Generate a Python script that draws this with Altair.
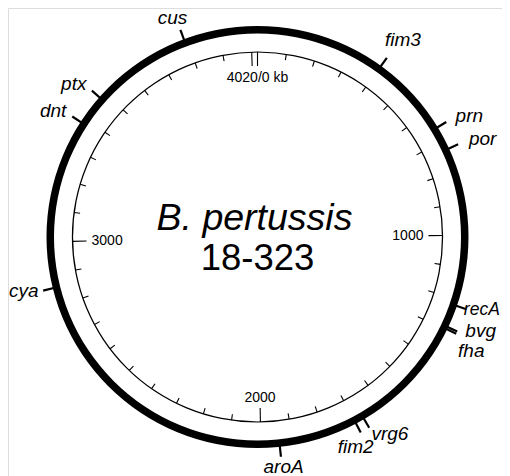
import math
import altair as alt
import pandas as pd

# ---------------- data ----------------
GENOME_KB = 4020
genes = ["cus", "fim3", "prn", "por", "recA", "bvg", "fha", "vrg6", "fim2", "aroA", "cya", "dnt", "ptx"]
gene_kb = [3792, 400, 655, 728, 1218, 1288, 1295, 1671, 1699, 1942, 2858, 3384, 3478]

scale_tick_kb = list(range(0, 4001, 100))
scale_label_kb = [0, 1000, 2000, 3000]
scale_labels = ["4020/0 kb", "1000", "2000", "3000"]

title_lines = ["B. pertussis", "18-323"]

# ---------------- layout (styles / positions) ----------------
W, H = 494, 468
CX, CY = 249.5, 229.0          # circle centre inside the plot area (pixels)
R_RING_OUT, R_RING_IN = 211.0, 203.5
R_INNER = 185.0
GENE_TICK = (208.0, 221.0)
label_nudge_deg = [-0.8, 0.6, 1.6, 1.3, -1.0, -2.6, 2.0, -3.6, 2.8, -0.4, 1.0, -1.4, -1.7]
label_radius = [235, 245, 244, 245.5, 236, 242, 242, 237, 232, 231, 240, 240, 239]
label_size = [19, 19, 19, 19, 17.5, 19, 19, 19, 19, 19, 19, 19, 19]
scale_label_radius = [159, 166, 161, 166]
scale_label_align = ["center", "right", "center", "left"]
FONT = "Liberation Sans"

x_scale = alt.Scale(domain=[-CX, W - CX], nice=False, zero=False)
y_scale = alt.Scale(domain=[CY - H, CY], nice=False, zero=False)


def ang(kb):
    return kb / GENOME_KB * 2 * math.pi


# gene ticks + labels
gdf = pd.DataFrame({"gene": genes, "kb": gene_kb})
gdf["a"] = gdf["kb"].map(ang)
gdf["x1"] = GENE_TICK[0] * gdf["a"].map(math.sin)
gdf["y1"] = GENE_TICK[0] * gdf["a"].map(math.cos)
gdf["x2"] = GENE_TICK[1] * gdf["a"].map(math.sin)
gdf["y2"] = GENE_TICK[1] * gdf["a"].map(math.cos)
la = gdf["a"] + pd.Series(label_nudge_deg).map(math.radians)
gdf["lx"] = pd.Series(label_radius) * la.map(math.sin)
gdf["ly"] = pd.Series(label_radius) * la.map(math.cos)
gdf["fs"] = label_size

# scale ticks
tdf = pd.DataFrame({"kb": scale_tick_kb})
tdf["a"] = tdf["kb"].map(ang)
tdf["len"] = [14.0 if (k % 1000 == 0) else 6.0 for k in tdf["kb"]]
tdf["x1"] = R_INNER * tdf["a"].map(math.sin)
tdf["y1"] = R_INNER * tdf["a"].map(math.cos)
tdf["x2"] = (R_INNER - tdf["len"]) * tdf["a"].map(math.sin)
tdf["y2"] = (R_INNER - tdf["len"]) * tdf["a"].map(math.cos)

ldf = pd.DataFrame({"kb": scale_label_kb, "label": scale_labels,
                    "r": scale_label_radius, "align": scale_label_align})
ldf["a"] = ldf["kb"].map(ang)
ldf["x"] = ldf["r"] * ldf["a"].map(math.sin)
ldf["y"] = ldf["r"] * ldf["a"].map(math.cos)

one = pd.DataFrame({"c": [0]})

X = lambda f: alt.X(f, type="quantitative", scale=x_scale, axis=None)
Y = lambda f: alt.Y(f, type="quantitative", scale=y_scale, axis=None)

ring = alt.Chart(one).mark_arc(
    radius=R_RING_OUT, radius2=R_RING_IN, theta=0, theta2=2 * math.pi, color="black"
).encode(x=alt.X(datum=0, type="quantitative", scale=x_scale, axis=None),
         y=alt.Y(datum=0, type="quantitative", scale=y_scale, axis=None))

inner = alt.Chart(one).mark_arc(
    radius=R_INNER + 0.6, radius2=R_INNER - 0.6, theta=0, theta2=2 * math.pi, color="black"
).encode(x=alt.X(datum=0, type="quantitative", scale=x_scale, axis=None),
         y=alt.Y(datum=0, type="quantitative", scale=y_scale, axis=None))

ticks = alt.Chart(tdf).mark_rule(color="black", strokeWidth=1.1).encode(
    x=X("x1"), y=Y("y1"), x2="x2", y2="y2")

tick_labels = [
    alt.Chart(ldf[ldf["align"] == al]).mark_text(
        font=FONT, fontSize=14, align=al, baseline="middle", color="black"
    ).encode(x=X("x"), y=Y("y"), text="label:N")
    for al in ["center", "left", "right"]
]

gene_ticks = alt.Chart(gdf).mark_rule(color="black", strokeWidth=2.2).encode(
    x=X("x1"), y=Y("y1"), x2="x2", y2="y2")

gene_labels = alt.Chart(gdf).mark_text(
    font=FONT, fontStyle="italic", align="center", baseline="middle", color="black"
).encode(x=X("lx"), y=Y("ly"), text="gene:N",
         size=alt.Size("fs:Q", scale=None, legend=None))

tdf_title = pd.DataFrame({"t": title_lines, "x": [-3.0, 0.0], "y": [7.0, -33.0]})
title_it = alt.Chart(tdf_title.iloc[[0]]).mark_text(
    font=FONT, fontSize=37.5, fontStyle="italic", align="center", baseline="alphabetic", color="black"
).encode(x=X("x"), y=Y("y"), text="t:N")
title_num = alt.Chart(tdf_title.iloc[[1]]).mark_text(
    font=FONT, fontSize=36.5, align="center", baseline="alphabetic", color="black"
).encode(x=X("x"), y=Y("y"), text="t:N")

chart = alt.layer(
    ring, inner, ticks, *tick_labels, gene_ticks, gene_labels, title_it, title_num
).properties(
    width=W, height=H, padding=0, autosize=alt.AutoSizeParams(type="none")
).configure_view(strokeWidth=0, stroke="transparent").configure(background="white")

chart.save("out.html", embed_options={"renderer": "svg", "actions": False})
